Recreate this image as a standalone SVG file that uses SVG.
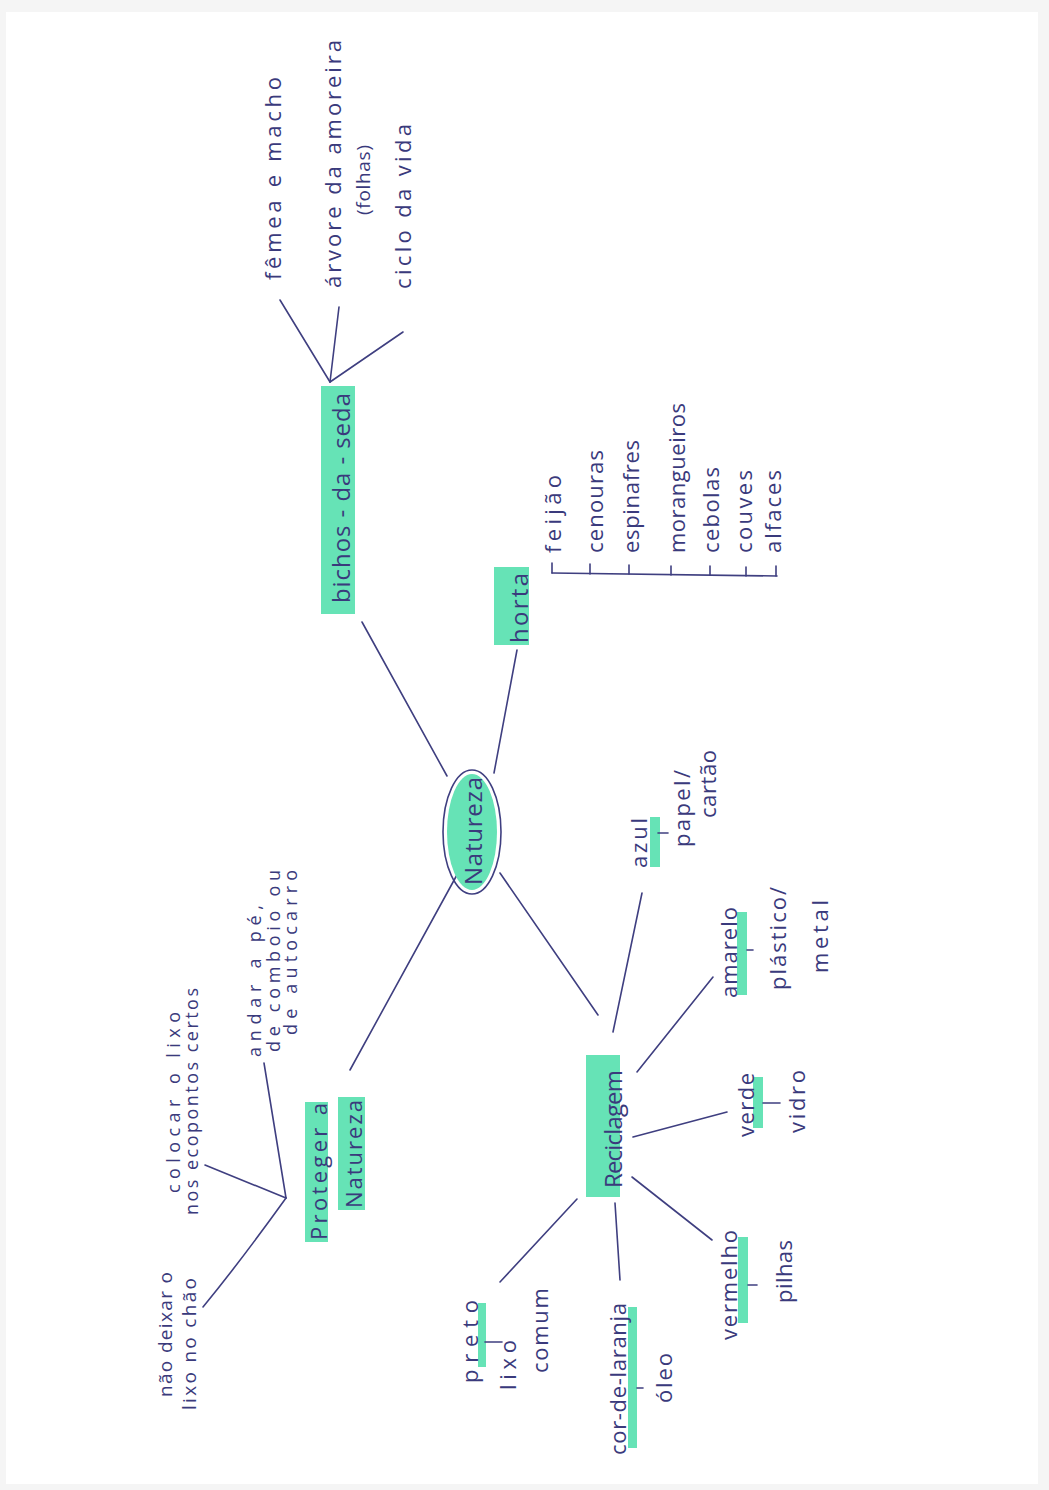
<svg xmlns="http://www.w3.org/2000/svg" width="1049" height="1490" viewBox="0 0 1049 1490">
<style>
.t{font-family:"Open Sans","Liberation Sans",sans-serif;fill:#3a3a7c;font-size:22px}
.s{font-size:19px}
.m{font-size:18px}
.b{font-size:24px}
.hl{fill:#66e3b6}
.ln{stroke:#3f3f80;stroke-width:1.6;fill:none;stroke-linecap:round}
</style>
<rect width="1049" height="1490" fill="#f5f5f5"/>
<rect x="6" y="12" width="1032" height="1472" fill="#ffffff"/>
<g id="connectors" class="ln">
<path d="M447,776 L362,622"/>
<path d="M330,382 L280,300"/>
<path d="M330,382 L339,307"/>
<path d="M330,382 L403,332"/>
<path d="M494,773 L517,650"/>
<path d="M500,873 L598,1015"/>
<path d="M458,873 L350,1070"/>
<path d="M613,1032 L642,893"/>
<path d="M637,1072 L713,977"/>
<path d="M633,1137 L727,1112"/>
<path d="M632,1177 L712,1240"/>
<path d="M615,1203 L620,1280"/>
<path d="M577,1199 L500,1282"/>
<path d="M286,1198 L205,1165"/>
<path d="M286,1198 L264,1063"/>
<path d="M286,1198 Q240,1262 203,1307"/>
<path d="M552,573 L777,576"/>
<path d="M552,563 V573 M590,564 V574 M629,565 V574 M671,566 V575 M710,566 V575 M746,567 V576 M776,566 V576"/>
</g>
<g id="natureza">
<ellipse cx="472" cy="832" rx="25" ry="58" class="hl"/>
<ellipse cx="472" cy="832" rx="29" ry="62" class="ln"/>
<text class="t b" transform="translate(482,885) rotate(-90)" textLength="108">Natureza</text>
</g>
<g id="bichos">
<rect x="321" y="386" width="34" height="228" class="hl"/>
<text class="t b" transform="translate(350,603) rotate(-90)" textLength="210">bichos - da - seda</text>
</g>
<g id="femea"><text class="t" transform="translate(281,280) rotate(-90)" textLength="203">fêmea e macho</text></g>
<g id="arvore">
<text class="t" transform="translate(341,288) rotate(-90)" textLength="248">árvore da amoreira</text>
<text class="t s" transform="translate(370,215) rotate(-90)" textLength="70">(folhas)</text>
</g>
<g id="ciclo"><text class="t" transform="translate(411,289) rotate(-90)" textLength="165">ciclo da vida</text></g>
<g id="horta">
<rect x="494" y="567" width="35" height="78" class="hl"/>
<text class="t b" transform="translate(528,643) rotate(-90)" textLength="70">horta</text>
</g>
<g id="feijao"><text class="t" transform="translate(561,553) rotate(-90)" textLength="78">feijão</text></g>
<g id="cenouras"><text class="t" transform="translate(603,553) rotate(-90)" textLength="103">cenouras</text></g>
<g id="espinafres"><text class="t" transform="translate(639,553) rotate(-90)" textLength="113">espinafres</text></g>
<g id="morangueiros"><text class="t" transform="translate(685,553) rotate(-90)" textLength="150">morangueiros</text></g>
<g id="cebolas"><text class="t" transform="translate(719,553) rotate(-90)" textLength="86">cebolas</text></g>
<g id="couves"><text class="t" transform="translate(752,553) rotate(-90)" textLength="83">couves</text></g>
<g id="alfaces"><text class="t" transform="translate(781,553) rotate(-90)" textLength="83">alfaces</text></g>
<g id="reciclagem">
<rect x="586" y="1055" width="34" height="142" class="hl"/>
<text class="t b" transform="translate(622,1188) rotate(-90)" textLength="118">Reciclagem</text>
</g>
<g id="azul">
<rect x="650" y="817" width="10" height="50" class="hl"/>
<text class="t" transform="translate(647,868) rotate(-90)" textLength="50">azul</text>
<path class="ln" d="M658,833 L668,833"/>
<text class="t" transform="translate(690,847) rotate(-90)" textLength="77">papel/</text>
<text class="t" transform="translate(716,818) rotate(-90)" textLength="68">cartão</text>
</g>
<g id="amarelo">
<rect x="737" y="912" width="10" height="83" class="hl"/>
<text class="t" transform="translate(737,998) rotate(-90)" textLength="91">amarelo</text>
<path class="ln" d="M747,950 L753,950"/>
<text class="t" transform="translate(786,990) rotate(-90)" textLength="103">plástico/</text>
<text class="t" transform="translate(828,973) rotate(-90)" textLength="73">metal</text>
</g>
<g id="verde">
<rect x="753" y="1077" width="10" height="51" class="hl"/>
<text class="t" transform="translate(754,1137) rotate(-90)" textLength="64">verde</text>
<path class="ln" d="M763,1103 L780,1103"/>
<text class="t" transform="translate(805,1133) rotate(-90)" textLength="63">vidro</text>
</g>
<g id="vermelho">
<rect x="738" y="1237" width="10" height="86" class="hl"/>
<text class="t" transform="translate(737,1340) rotate(-90)" textLength="110">vermelho</text>
<path class="ln" d="M748,1285 L757,1285"/>
<text class="t" transform="translate(792,1303) rotate(-90)" textLength="63">pilhas</text>
</g>
<g id="laranja">
<rect x="628" y="1307" width="9" height="141" class="hl"/>
<text class="t" transform="translate(626,1455) rotate(-90)" textLength="152">cor-de-laranja</text>
<path class="ln" d="M637,1388 L643,1388"/>
<text class="t" transform="translate(672,1403) rotate(-90)" textLength="50">óleo</text>
</g>
<g id="preto">
<rect x="478" y="1303" width="8" height="64" class="hl"/>
<text class="t" transform="translate(478,1383) rotate(-90)" textLength="83">preto</text>
<path class="ln" d="M485,1342 L502,1342"/>
<text class="t" transform="translate(516,1390) rotate(-90)" textLength="50">lixo</text>
<text class="t" transform="translate(548,1373) rotate(-90)" textLength="85">comum</text>
</g>
<g id="proteger">
<rect x="305" y="1102" width="23" height="140" class="hl"/>
<text class="t" transform="translate(327,1240) rotate(-90)" textLength="137">Proteger a</text>
<rect x="338" y="1097" width="27" height="113" class="hl"/>
<text class="t" transform="translate(362,1208) rotate(-90)" textLength="108">Natureza</text>
</g>
<g id="colocar">
<text class="t m" transform="translate(180,1193) rotate(-90)" textLength="181">colocar o lixo</text>
<text class="t m" transform="translate(198,1215) rotate(-90)" textLength="227">nos ecopontos certos</text>
</g>
<g id="andar">
<text class="t m" transform="translate(261,1057) rotate(-90)" textLength="152">andar a pé,</text>
<text class="t m" transform="translate(280,1052) rotate(-90)" textLength="182">de comboio ou</text>
<text class="t m" transform="translate(297,1035) rotate(-90)" textLength="165">de autocarro</text>
</g>
<g id="naodeixar">
<text class="t s" transform="translate(172,1397) rotate(-90)" textLength="125">não deixar o</text>
<text class="t s" transform="translate(196,1410) rotate(-90)" textLength="132">lixo no chão</text>
</g>
</svg>
